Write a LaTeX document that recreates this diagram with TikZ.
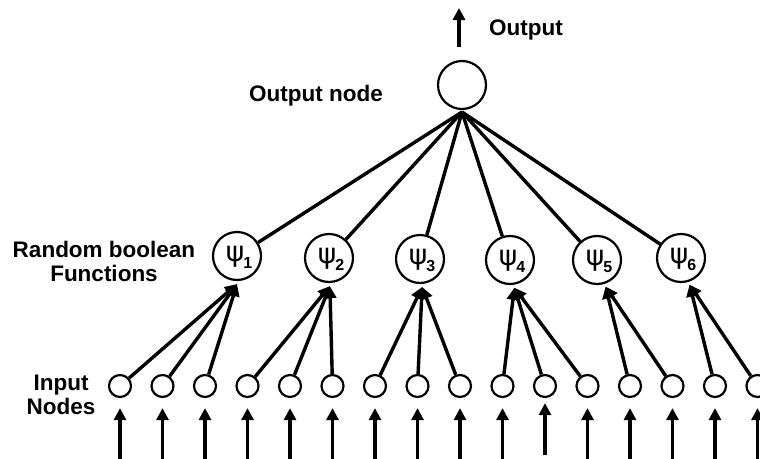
\documentclass[tikz,border=0pt]{standalone}
\usepackage{fontspec}
\setmainfont{Liberation Sans}
\newfontfamily\psifont{DejaVu Sans}
\usetikzlibrary{arrows.meta,calc}

\tikzset{
  unit/.style={circle, draw, line width=2.2pt, minimum size=#1, inner sep=0pt},
  inunit/.style={unit=22pt},
  fnunit/.style={unit=48pt},
  outunit/.style={unit=48pt},
  wire/.style={line width=3.4pt},
  feed/.style={wire, -{Triangle[length=12pt,width=12pt]}},
  lbl/.style={font=\fontsize{22.5}{26}\selectfont\bfseries, align=center, inner sep=0pt},
}
\newcommand{\fnlabel}[1]{{\psifont\fontsize{28}{28}\selectfont ψ}\kern-1pt\raisebox{-7pt}{\fontsize{16}{16}\selectfont\bfseries #1}}

\begin{document}
\begin{tikzpicture}[x=1pt, y=-1pt]
  \useasboundingbox (0,0) rectangle (760,458);

  % output unit and its output arrow
  \node[outunit] (out) at (462,85) {};
  \coordinate (otail) at (459,47);
  \coordinate (otip) at (459,8);
  \draw[feed] (otail) -- (otip);
  \node[lbl, anchor=west] (olab) at (489,30) {Output};
  \node[lbl] (onlab) at (316,96) {Output node};

  % random boolean function units
  \foreach \i/\x/\y in {1/237/256, 2/329/258, 3/420/259, 4/510/260, 5/597/260, 6/681/258} {
    \node[fnunit] (p\i) at (\x,\y) {};
    \node at ([xshift=2pt,yshift=-1pt]p\i.center) {\fnlabel{\i}};
  }
  \node[lbl] (flab) at (104,261) {Random boolean\\[-2pt]Functions};

  % input units with their incoming arrows
  \foreach \j in {0,...,15} {
    \pgfmathsetmacro{\xx}{120+42.5*\j}
    \node[inunit] (in\j) at (\xx,386) {};
    \coordinate (b\j) at (\xx,460);
  }
  \foreach \j in {0,...,15} {
    \ifnum\j=10
      \draw[feed] ([yshift=5pt]b\j) -- ([yshift=-5pt]in\j.south);
    \else
      \draw[feed] (b\j) -- ([yshift=-10pt]in\j.south);
    \fi
  }
  \node[lbl] (ilab) at (61,395) {Input\\[-2pt]Nodes};

  % output unit fed by every function unit
  \coordinate (ojoin) at (462,112);
  \foreach \i in {1,...,6} {
    \draw[wire] (ojoin) -- (p\i);
  }

  % each function unit reads a few inputs
  \foreach \i/\a/\list in {1/270/{0,1,2}, 2/272/{3,4,5}, 3/275/{6,7,8},
                          4/280/{9,10,11}, 5/290/{12,13}, 6/290/{14,15}} {
    \foreach \j in \list {
      \draw[feed] (in\j) -- ([yshift=-3pt]p\i.\a);
    }
  }
\end{tikzpicture}
\end{document}
